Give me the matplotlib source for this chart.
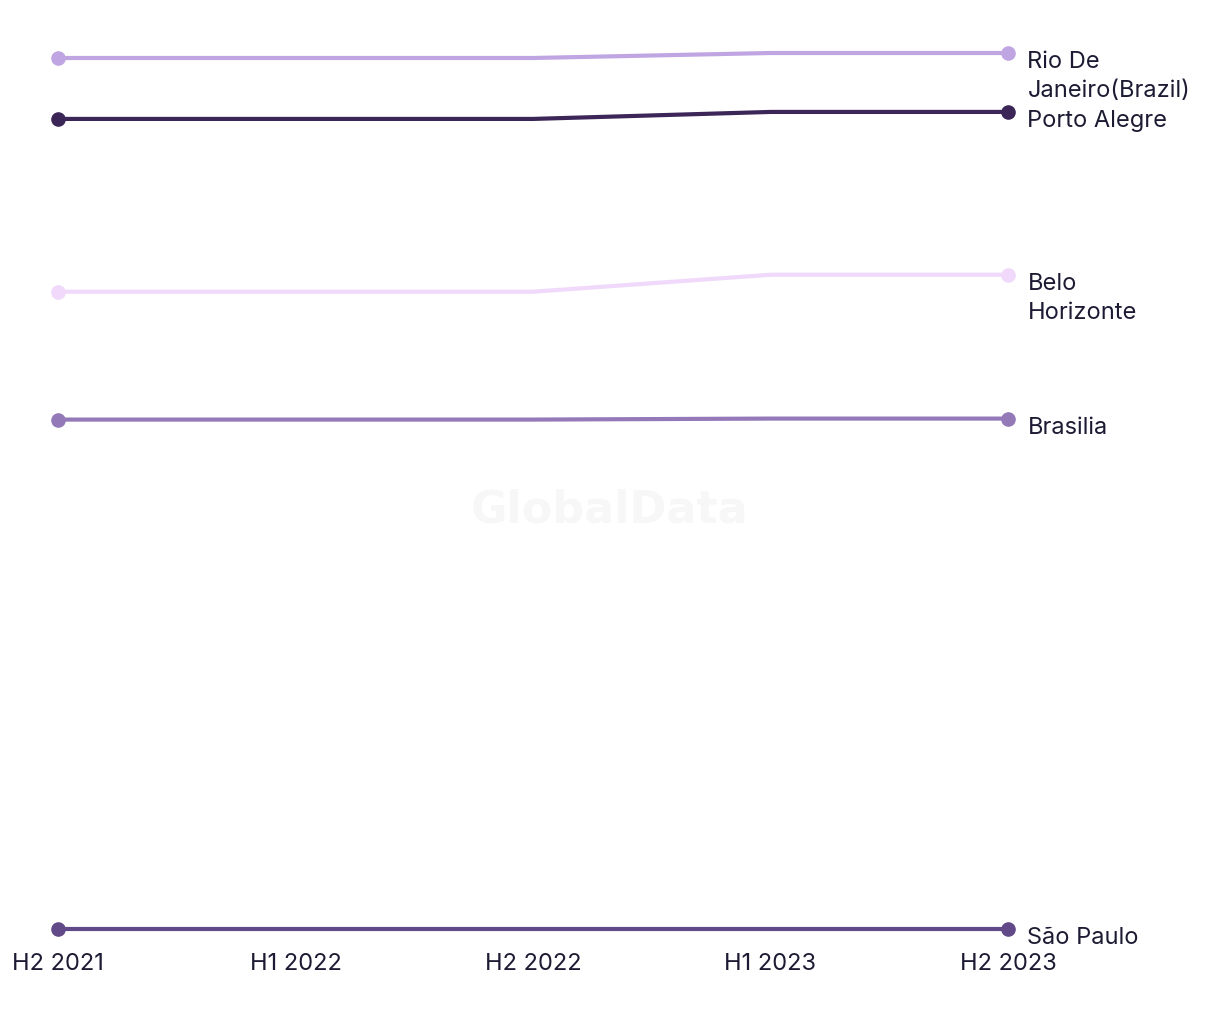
import matplotlib.pyplot as plt

periods = ["H2 2021", "H1 2022", "H2 2022", "H1 2023", "H2 2023"]
cities = ["Rio De\nJaneiro(Brazil)", "Porto Alegre", "Belo\nHorizonte", "Brasilia", "São Paulo"]
rio = [872, 872, 872, 877, 877]
porto = [811, 811, 811, 818, 818]
belo = [638, 638, 638, 655, 655]
brasilia = [510, 510, 510, 511, 511]
sao_paulo = [0, 0, 0, 0, 0]
series = [rio, porto, belo, brasilia, sao_paulo]
colors = ["#c0a5e3", "#3b2657", "#f0d9fb", "#9479b8", "#614a87"]

plt.rcParams["font.family"] = ["Inter", "DejaVu Sans"]
text_color = "#1c1b33"

fig = plt.figure(figsize=(12.2, 10.2), dpi=100)
ax = fig.add_axes([58 / 1220, 90 / 1020, 950 / 1220, 876 / 1020])

fig.text(610 / 1220, 510 / 1020, "GlobalData", ha="center", va="center",
         fontsize=32, fontweight="bold", color="#f7f7f7", family="DejaVu Sans")

x = list(range(len(periods)))
for vals, name, c in zip(series, cities, colors):
    ax.plot(x, vals, color=c, lw=3, clip_on=False, solid_capstyle="round")
    ax.plot([x[0], x[-1]], [vals[0], vals[-1]], "o", color=c, ms=9.5,
            clip_on=False)
    ax.annotate(name, (x[-1], vals[-1]), xytext=(14, 2), textcoords="offset points",
                ha="left", va="top", fontsize=17, color=text_color,
                linespacing=1.4, annotation_clip=False)

ax.set_xlim(0, 4)
ax.set_ylim(0, 877)
ax.set_xticks(x)
ax.set_xticklabels(periods, fontsize=17, color=text_color)
ax.tick_params(axis="x", length=0, pad=16.5)
ax.set_yticks([])
for s in ax.spines.values():
    s.set_visible(False)

fig.savefig("out.png", dpi=100)
